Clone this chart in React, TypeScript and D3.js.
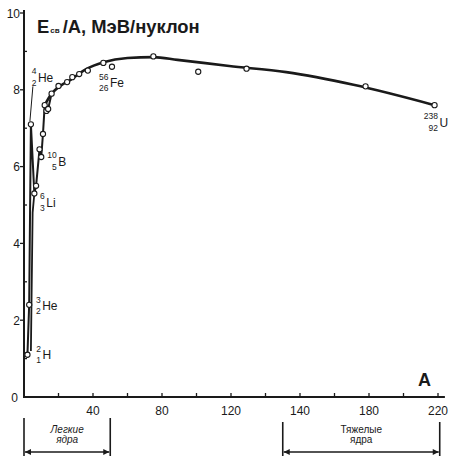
import React, { useEffect, useRef } from "react";
import * as d3 from "d3";

const W = 452;
const H = 456;

// Mass number A and binding energy per nucleon (MeV) of the plotted nuclides
const massNumbers = [2, 3, 4, 6, 7, 9, 10, 11, 12, 13, 14, 16, 20, 25, 28, 32, 37, 46, 51, 75, 101, 129, 198, 238];
const bindingPerNucleon = [1.1, 2.4, 7.1, 5.3, 5.5, 6.45, 6.25, 6.85, 7.6, 7.45, 7.5, 7.9, 8.1, 8.2, 8.33, 8.41, 8.5, 8.7, 8.6, 8.87, 8.47, 8.55, 8.09, 7.6];
// the light nuclides joined point to point
const lightCount = 12;

// second strand rising beside the lightest nuclides
const strandA = [4, 5, 6];
const strandE = [1.2, 4.8, 5.3];

// smooth trend through the medium and heavy nuclides
const trendA = [12, 16, 21, 27, 36, 46, 60, 75, 89, 119, 152, 191, 238];
const trendE = [7.6, 7.9, 8.1, 8.26, 8.54, 8.72, 8.83, 8.85, 8.78, 8.62, 8.46, 8.13, 7.6];

// axis ticks
const xTickValues = [40, 80, 120, 160, 200, 240];
const xTickLabels = ["40", "80", "120", "140", "180", "220"];
const yTickValues = [0, 2, 4, 6, 8, 10];
const yTickLabels = ["0", "2", "4", "6", "8", "10"];

// isotope annotations: symbol, mass number, charge, and the nuclide they mark
const isoSymbols = ["H", "He", "He", "Li", "B", "Fe", "U"];
const isoMass = ["2", "3", "4", "6", "10", "56", "238"];
const isoCharge = ["1", "2", "2", "3", "5", "26", "92"];
const isoA = [2, 3, 4, 6, 10, 51, 238];

// regions under the axis
const regionNames = [["Легкие", "ядра"], ["Тяжелые", "ядра"]];
const regionStart = [0, 150];
const regionEnd = [50, 241];

const FONT = "'Liberation Sans', Arial, Helvetica, sans-serif";

// label placement (symbol left edge / vertical centre, relative to the point)
const isoOffsets: [number, number][] = [
  [15, 0],
  [13, 1],
  [7, -47],
  [12, 9],
  [17, 4],
  [-2, 16],
  [5, 17],
];

export default function App() {
  const ref = useRef<SVGSVGElement>(null);

  useEffect(() => {
    const svg = d3.select(ref.current);
    svg.selectAll("*").remove();

    const x = d3.scaleLinear().domain([0, 240]).range([24, 438]);
    const y = d3.scaleLinear().domain([0, 10]).range([397, 13]);
    const ink = "#1a1a1a";

    const defs = svg.append("defs");
    defs
      .append("marker")
      .attr("id", "arrow")
      .attr("viewBox", "0 0 10 10")
      .attr("refX", 10)
      .attr("refY", 5)
      .attr("markerWidth", 9)
      .attr("markerHeight", 6)
      .attr("markerUnits", "userSpaceOnUse")
      .attr("orient", "auto-start-reverse")
      .append("path")
      .attr("d", "M0,0 L10,5 L0,10 Z")
      .attr("fill", ink);

    // axes
    const g = svg.append("g");
    g.append("line")
      .attr("x1", x(0)).attr("x2", x(244))
      .attr("y1", y(0)).attr("y2", y(0))
      .attr("stroke", ink).attr("stroke-width", 2);
    g.append("line")
      .attr("x1", x(0)).attr("x2", x(0))
      .attr("y1", y(0) + 1).attr("y2", y(10.08))
      .attr("stroke", ink).attr("stroke-width", 2);

    // x ticks every 20
    g.selectAll(".xt")
      .data(d3.range(20, 241, 20))
      .join("line")
      .attr("x1", (d) => x(d)).attr("x2", (d) => x(d))
      .attr("y1", y(0)).attr("y2", y(0) - 4)
      .attr("stroke", ink).attr("stroke-width", 1.3);

    g.selectAll(".xl")
      .data(xTickValues)
      .join("text")
      .attr("x", (d) => x(d))
      .attr("y", 415)
      .attr("text-anchor", "middle")
      .attr("font-family", FONT)
      .attr("font-size", 12)
      .attr("fill", ink)
      .text((d, i) => xTickLabels[i]);

    // y ticks
    g.selectAll(".yt")
      .data(yTickValues.slice(1))
      .join("line")
      .attr("x1", x(0) - 4).attr("x2", x(0))
      .attr("y1", (d) => y(d)).attr("y2", (d) => y(d))
      .attr("stroke", ink).attr("stroke-width", 1.3);
    g.selectAll(".ym")
      .data(d3.range(1, 10, 2))
      .join("line")
      .attr("x1", x(0)).attr("x2", x(0) + 3)
      .attr("y1", (d) => y(d)).attr("y2", (d) => y(d))
      .attr("stroke", ink).attr("stroke-width", 1.3);

    g.selectAll(".yl")
      .data(yTickValues)
      .join("text")
      .attr("x", (d) => (d === 0 ? 18 : 20))
      .attr("y", (d) => y(d) + 4.5)
      .attr("text-anchor", "end")
      .attr("font-family", FONT)
      .attr("font-size", 12)
      .attr("fill", ink)
      .text((d, i) => yTickLabels[i]);

    // axis titles
    const title = svg
      .append("text")
      .attr("x", 37)
      .attr("y", 33)
      .attr("font-family", FONT)
      .attr("font-weight", "bold")
      .attr("fill", ink);
    title.append("tspan").attr("font-size", 18.4).text("E");
    title.append("tspan").attr("font-size", 8).attr("dx", 1).text("св");
    title.append("tspan").attr("font-size", 18.4).attr("dx", 3).text("/A, МэВ/нуклон");

    svg
      .append("text")
      .attr("x", 418)
      .attr("y", 386)
      .attr("font-family", FONT)
      .attr("font-weight", "bold")
      .attr("font-size", 18)
      .attr("fill", ink)
      .text("A");

    const pts = massNumbers.map((a, i) => ({ a, e: bindingPerNucleon[i] }));

    // light nuclides joined point by point
    const line = d3
      .line<{ a: number; e: number }>()
      .x((d) => x(d.a))
      .y((d) => y(d.e));
    svg
      .append("path")
      .attr("d", line(pts.slice(0, lightCount)))
      .attr("fill", "none")
      .attr("stroke", ink)
      .attr("stroke-width", 2)
      .attr("stroke-linejoin", "round");

    const strand = strandA.map((a, i) => ({ a, e: strandE[i] }));
    svg
      .append("path")
      .attr("d", line(strand))
      .attr("fill", "none")
      .attr("stroke", ink)
      .attr("stroke-width", 1.8)
      .attr("stroke-linejoin", "round");

    // trend curve
    const trend = trendA.map((a, i) => ({ a, e: trendE[i] }));
    svg
      .append("path")
      .attr("d", line.curve(d3.curveMonotoneX)(trend))
      .attr("fill", "none")
      .attr("stroke", ink)
      .attr("stroke-width", 2.6)
      .attr("stroke-linecap", "round");

    // points
    svg
      .append("g")
      .selectAll("circle")
      .data(pts)
      .join("circle")
      .attr("cx", (d) => x(d.a))
      .attr("cy", (d) => y(d.e))
      .attr("r", 2.6)
      .attr("fill", "#fff")
      .attr("stroke", ink)
      .attr("stroke-width", 1.1);

    // isotope labels
    const lab = svg.append("g").attr("font-family", FONT).attr("fill", ink);
    isoSymbols.forEach((sym, i) => {
      const a = isoA[i];
      const e = bindingPerNucleon[massNumbers.indexOf(a)];
      const sx = x(a) + isoOffsets[i][0];
      const sy = y(e) + isoOffsets[i][1];
      lab.append("text").attr("x", sx).attr("y", sy + 4.5).attr("font-size", 12).text(sym);
      lab.append("text").attr("x", sx - 1.5).attr("y", sy - 3).attr("font-size", 8.5).attr("text-anchor", "end").text(isoMass[i]);
      lab.append("text").attr("x", sx - 1.5).attr("y", sy + 8.5).attr("font-size", 8.5).attr("text-anchor", "end").text(isoCharge[i]);
    });
    // leader from the helium-4 label down to its point
    const heE = bindingPerNucleon[massNumbers.indexOf(4)];
    svg
      .append("line")
      .attr("x1", x(4) + 2).attr("y1", y(heE) - 38)
      .attr("x2", x(4) - 1).attr("y2", y(heE) - 3)
      .attr("stroke", ink).attr("stroke-width", 1);

    // light / heavy brackets below the axis
    const br = svg.append("g").attr("font-family", FONT).attr("fill", ink);
    regionNames.forEach((names, i) => {
      const x1 = x(regionStart[i]);
      const x2 = x(regionEnd[i]);
      const top = i === 0 ? 418 : 422;
      br.append("line").attr("x1", x1).attr("x2", x1).attr("y1", top).attr("y2", H).attr("stroke", ink).attr("stroke-width", 1.6);
      br.append("line").attr("x1", x2).attr("x2", x2).attr("y1", top).attr("y2", H).attr("stroke", ink).attr("stroke-width", 1.6);
      br.append("line")
        .attr("x1", x1 + 1).attr("x2", x2 - 1)
        .attr("y1", 452).attr("y2", 452)
        .attr("stroke", ink).attr("stroke-width", 1.4)
        .attr("marker-start", "url(#arrow)")
        .attr("marker-end", "url(#arrow)");
      const cx = (x1 + x2) / 2;
      br.append("text").attr("x", cx).attr("y", 433).attr("text-anchor", "middle").attr("font-size", 10)
        .attr("font-style", i === 0 ? "italic" : "normal").text(names[0]);
      br.append("text").attr("x", cx).attr("y", 443).attr("text-anchor", "middle").attr("font-size", 10)
        .attr("font-style", i === 0 ? "italic" : "normal").text(names[1]);
    });
  }, []);

  return (
    <svg
      ref={ref}
      width={W}
      height={H}
      style={{ position: "absolute", left: 0, top: 0, background: "#fff" }}
    />
  );
}
